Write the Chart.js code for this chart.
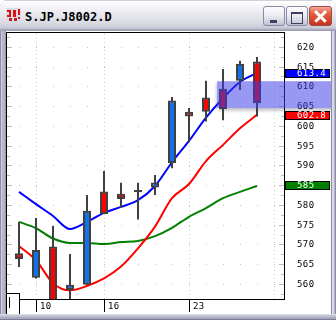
<!DOCTYPE html>
<html><head><meta charset="utf-8">
<script src="https://cdn.jsdelivr.net/npm/chart.js@4.4.1/dist/chart.umd.min.js"></script>
<style>
html,body{margin:0;padding:0;background:#ffffff;width:336px;height:320px;overflow:hidden;}
#win{position:absolute;left:0;top:0;width:336px;height:320px;background:#b8b8cc;border-radius:7px 7px 0 0;overflow:hidden;}
#title{position:absolute;left:0;top:0;width:336px;height:31px;
 background:linear-gradient(to bottom,#a4a4b8 0px,#ffffff 1px,#f8f8fb 5px,#e8e8ef 14px,#dadae3 23px,#cacad8 28px,#a0a0b4 30px,#a0a0b4 31px);}
#ttext{position:absolute;left:25px;top:10px;font:bold 12px "DejaVu Sans Mono";color:#000;line-height:14px;white-space:nowrap;}
#icon{position:absolute;left:6px;top:8px;width:15px;height:14px;background:#dcdce4;}
#icon i{position:absolute;background:#e01010;}
.btn{position:absolute;top:6px;height:20px;box-sizing:border-box;border:1px solid #8a8aa6;border-radius:3px;
 background:linear-gradient(to bottom,#fdfdfe 0%,#ececf2 45%,#d4d4e0 80%,#c0c0d0 100%);}
#bmin{left:263px;width:22px;}
#bmax{left:286px;width:22px;}
#bcls{left:309px;width:23px;border-color:#9c4a4a;background:linear-gradient(to bottom,#f2a898 0%,#e6603e 35%,#d4442a 75%,#c23420 100%);}
#bmin b{position:absolute;left:6px;top:13px;width:7px;height:3px;background:#3e3e60;}
#bmax b{position:absolute;left:4px;top:5px;width:10px;height:9px;border:1px solid #3e3e60;border-top-width:2px;box-sizing:content-box;}
#bcls b{position:absolute;left:3px;top:8px;width:15px;height:2.6px;background:#fff;}
#lf{position:absolute;left:0;top:31px;width:6px;height:289px;background:linear-gradient(to right,#8c8ca4 0,#8c8ca4 1px,#d0d0e0 1px,#d0d0e0 2px,#b4b4ca 2px,#b4b4ca 5px,#9494ac 5px);}
#rf{position:absolute;left:331px;top:31px;width:5px;height:289px;background:linear-gradient(to right,#8c8ca4 0,#8c8ca4 1px,#dadae6 1px,#dadae6 3px,#b4b4ca 3px,#b4b4ca 4px,#8c8ca4 4px);}
#bf{position:absolute;left:0;top:314px;width:336px;height:6px;background:linear-gradient(to bottom,#dcdce6 0,#dcdce6 1px,#c4c4d4 1px,#c4c4d4 3px,#a8a8be 3px,#a8a8be 5px,#7c7c98 5px);}
#c{position:absolute;left:6px;top:31px;background:#ffffff;}
</style></head><body>
<div id="win">
 <div id="title">
  <div id="icon"><i style="left:1px;top:2px;width:4px;height:2px"></i><i style="left:3px;top:4px;width:2px;height:3px"></i><i style="left:1px;top:7px;width:4px;height:2px"></i><i style="left:7px;top:2px;width:3px;height:7px"></i><i style="left:12px;top:1px;width:2px;height:6px"></i><i style="left:12px;top:9px;width:2px;height:2px"></i><i style="left:3px;top:10px;width:3px;height:3px;background:#c02020"></i><i style="left:8px;top:10px;width:3px;height:3px;background:#c02020"></i></div>
  <div id="ttext">S.JP.J8002.D</div>
  <div class="btn" id="bmin"><b></b></div>
  <div class="btn" id="bmax"><b></b></div>
  <div class="btn" id="bcls"><b style="transform:rotate(45deg)"></b><b style="transform:rotate(-45deg)"></b></div>
 </div>
 <div id="lf"></div><div id="rf"></div><div id="bf"></div>
 <canvas id="c" width="325" height="283"></canvas>
</div>
<script>
// ---- data ----
const dayLabels = ['7','10','11','12','13','16','17','18','19','20','23','24','25','26','27'];
const openV  = [567.8, 561.6, 569.5, 558.5, 559.8, 583.4, 582.8, 583.5, 584.4, 590.6, 603.6, 607.2, 609.4, 611.4, 616.3];
const highV  = [575.7, 576.7, 574.7, 567.6, 582.5, 588.6, 585.6, 585.6, 587.6, 607.3, 604.5, 611.4, 614.4, 616.5, 617.4];
const lowV   = [564.3, 561.4, 553.0, 553.0, 559.8, 577.7, 579.2, 576.3, 582.5, 589.3, 596.0, 601.1, 601.4, 609.1, 602.4];
const closeV = [566.3, 568.6, 554.5, 559.8, 578.5, 577.7, 581.5, 583.5, 585.7, 606.4, 602.4, 603.6, 604.3, 615.7, 605.7];
const maBlue  = [583.3, 580.2, 577.2, 573.9, 575.7, 578.0, 579.5, 581.2, 584.8, 590.8, 596.2, 602.1, 607.0, 611.1, 613.4];
const maRed   = [569.6, 566.0, 560.2, 558.4, 559.5, 561.4, 564.4, 569.0, 574.5, 581.7, 585.3, 591.1, 595.2, 599.4, 602.8];
const maGreen = [575.7, 574.1, 571.5, 570.4, 570.4, 570.1, 570.6, 570.9, 572.1, 574.2, 577.0, 579.2, 581.7, 583.3, 584.8];
const maTagText = ['613.4', '602.8', '585'];
const yTicks = [560, 565, 570, 575, 580, 585, 590, 595, 600, 605, 610, 615, 620];
const xTickIdx = [1, 5, 10];
const xTickText = ['10', '16', '23'];
const xGridIdx = [1, 5, 10, 15];
const bandRange = [604.5, 611.3];
const bandStartIdx = 11.65;

const UP = '#1272ee', DOWN = '#ff0000', EDGE = '#404040';
const wickData = dayLabels.map((d, i) => ({x: i, y: [lowV[i], highV[i]]}));
const bodyData = dayLabels.map((d, i) => {
  let a = openV[i], b = closeV[i];
  if (a === b) { a -= 0.3; b += 0.3; }
  return {x: i, y: [a, b]};
});
const bodyColors = dayLabels.map((d, i) => closeV[i] > openV[i] ? UP : (closeV[i] < openV[i] ? DOWN : EDGE));
const pts = arr => arr.map((v, i) => ({x: i, y: v}));

const FONT = '9px "DejaVu Sans Mono"';

const deco = {
  id: 'deco',
  beforeDatasetsDraw(chart) {
    const {ctx, chartArea: a, scales: {x, y}} = chart;
    ctx.save();
    ctx.fillStyle = '#c4c4c4';
    yTicks.forEach(v => {
      const py = Math.round(y.getPixelForValue(v));
      for (let i = 0; i <= 15; i++) ctx.fillRect(Math.round(x.getPixelForValue(i)), py, 1, 1);
    });
    ctx.fillStyle = '#cccccc';
    xGridIdx.forEach(i => {
      const px = Math.round(x.getPixelForValue(i));
      for (let py = a.top + 1; py < a.bottom; py += 4) ctx.fillRect(px, py, 1, 1);
    });
    ctx.fillStyle = '#bcbcbc';
    for (let v = yTicks[0] - 2.5; v <= yTicks[yTicks.length - 1] + 2.5; v += 2.5) {
      const py = Math.round(y.getPixelForValue(v));
      if (py <= a.top || py >= a.bottom) continue;
      const major = (v % 5 === 0);
      const len = major ? 5 : 3;
      ctx.fillRect(a.left, py, len, 1);
      ctx.fillRect(a.right - len, py, len, 1);
    }
    ctx.restore();
  },
  afterDatasetsDraw(chart) {
    const {ctx, chartArea: a, scales: {x, y}, width} = chart;
    ctx.save();
    ctx.strokeStyle = '#000'; ctx.lineWidth = 1;
    ctx.beginPath();
    ctx.moveTo(0.5, a.top - 1); ctx.lineTo(0.5, chart.height);
    ctx.moveTo(0, a.top - 0.5); ctx.lineTo(a.right + 1, a.top - 0.5);
    ctx.moveTo(a.right + 0.5, a.top - 1); ctx.lineTo(a.right + 0.5, a.bottom + 1);
    ctx.moveTo(14, a.bottom + 0.5); ctx.lineTo(a.right + 1, a.bottom + 0.5);
    ctx.stroke();
    ctx.fillStyle = '#fff';
    ctx.fillRect(1, a.bottom - 5, 13, 20);
    ctx.strokeRect(0.5, a.bottom - 5.5, 13, 21);
    ctx.beginPath(); ctx.moveTo(3.5, a.bottom - 2); ctx.lineTo(3.5, a.bottom + 9); ctx.stroke();
    ctx.font = FONT; ctx.fillStyle = '#000';
    try { ctx.letterSpacing = '0.4px'; } catch (e) {}
    ctx.textBaseline = 'middle'; ctx.textAlign = 'left';
    xTickIdx.forEach((i, k) => {
      const px = Math.round(x.getPixelForValue(i)) + 0.5;
      ctx.beginPath(); ctx.moveTo(px, a.bottom); ctx.lineTo(px, a.bottom + 13); ctx.stroke();
      ctx.fillText(xTickText[k], px + 3.5, a.bottom + 7.5);
    });
    yTicks.forEach(v => {
      ctx.fillText(String(v), a.right + 13, y.getPixelForValue(v) + 0.6);
    });
    const bx = x.getPixelForValue(bandStartIdx);
    const bt = y.getPixelForValue(bandRange[1]);
    const bb = y.getPixelForValue(bandRange[0]);
    const g = ctx.createLinearGradient(0, bb, 0, bb + 5);
    g.addColorStop(0, 'rgba(60,60,80,0.32)'); g.addColorStop(1, 'rgba(60,60,80,0)');
    ctx.fillStyle = g; ctx.fillRect(bx + 2, bb, width - bx, 5);
    const g2 = ctx.createLinearGradient(bx - 3, 0, bx, 0);
    g2.addColorStop(0, 'rgba(60,60,80,0)'); g2.addColorStop(1, 'rgba(60,60,80,0.18)');
    ctx.fillStyle = g2; ctx.fillRect(bx - 3, bt + 2, 3, bb - bt);
    ctx.fillStyle = 'rgba(58,58,232,0.52)';
    ctx.fillRect(bx, bt, width - bx, bb - bt);
    const tagCols = ['#0000ff', '#ff0000', '#008000'];
    maTagText.forEach((t, k) => {
      const cy = Math.round(y.getPixelForValue(parseFloat(t)));
      ctx.fillStyle = tagCols[k];
      ctx.fillRect(a.right + 1, cy - 4, 44, 8);
      ctx.strokeStyle = '#000';
      ctx.strokeRect(a.right + 1.5, cy - 3.5, 44, 8);
      ctx.fillStyle = '#fff';
      ctx.fillText(t, a.right + 13, cy + 0.6);
    });
    ctx.restore();
  }
};

const lineOpts = {type: 'line', borderWidth: 2, pointRadius: 0, cubicInterpolationMode: 'monotone', order: 3};
new Chart(document.getElementById('c'), {
  type: 'bar',
  data: {
    datasets: [
      Object.assign({data: pts(maBlue), borderColor: '#0000ff'}, lineOpts),
      Object.assign({data: pts(maRed), borderColor: '#ff0000'}, lineOpts),
      Object.assign({data: pts(maGreen), borderColor: '#008000'}, lineOpts),
      {type: 'bar', data: wickData, backgroundColor: EDGE, borderWidth: 0, barThickness: 2, grouped: false, order: 2, clip: 0, inflateAmount: 0},
      {type: 'bar', data: bodyData, backgroundColor: bodyColors, borderColor: EDGE, borderWidth: 2, borderSkipped: false,
       barThickness: 8, grouped: false, order: 1, clip: 0, inflateAmount: 0}
    ]
  },
  options: {
    responsive: false, animation: false, devicePixelRatio: 1, events: [],
    layout: {padding: {left: 1, top: 2, right: 47, bottom: 15}},
    plugins: {legend: {display: false}, tooltip: {enabled: false}},
    scales: {
      x: {type: 'linear', min: -12 / 17, max: 265 / 17, offset: false, display: false},
      y: {type: 'linear', min: 556.2, max: 623.5, display: false}
    }
  },
  plugins: [deco]
});
</script>
</body></html>
